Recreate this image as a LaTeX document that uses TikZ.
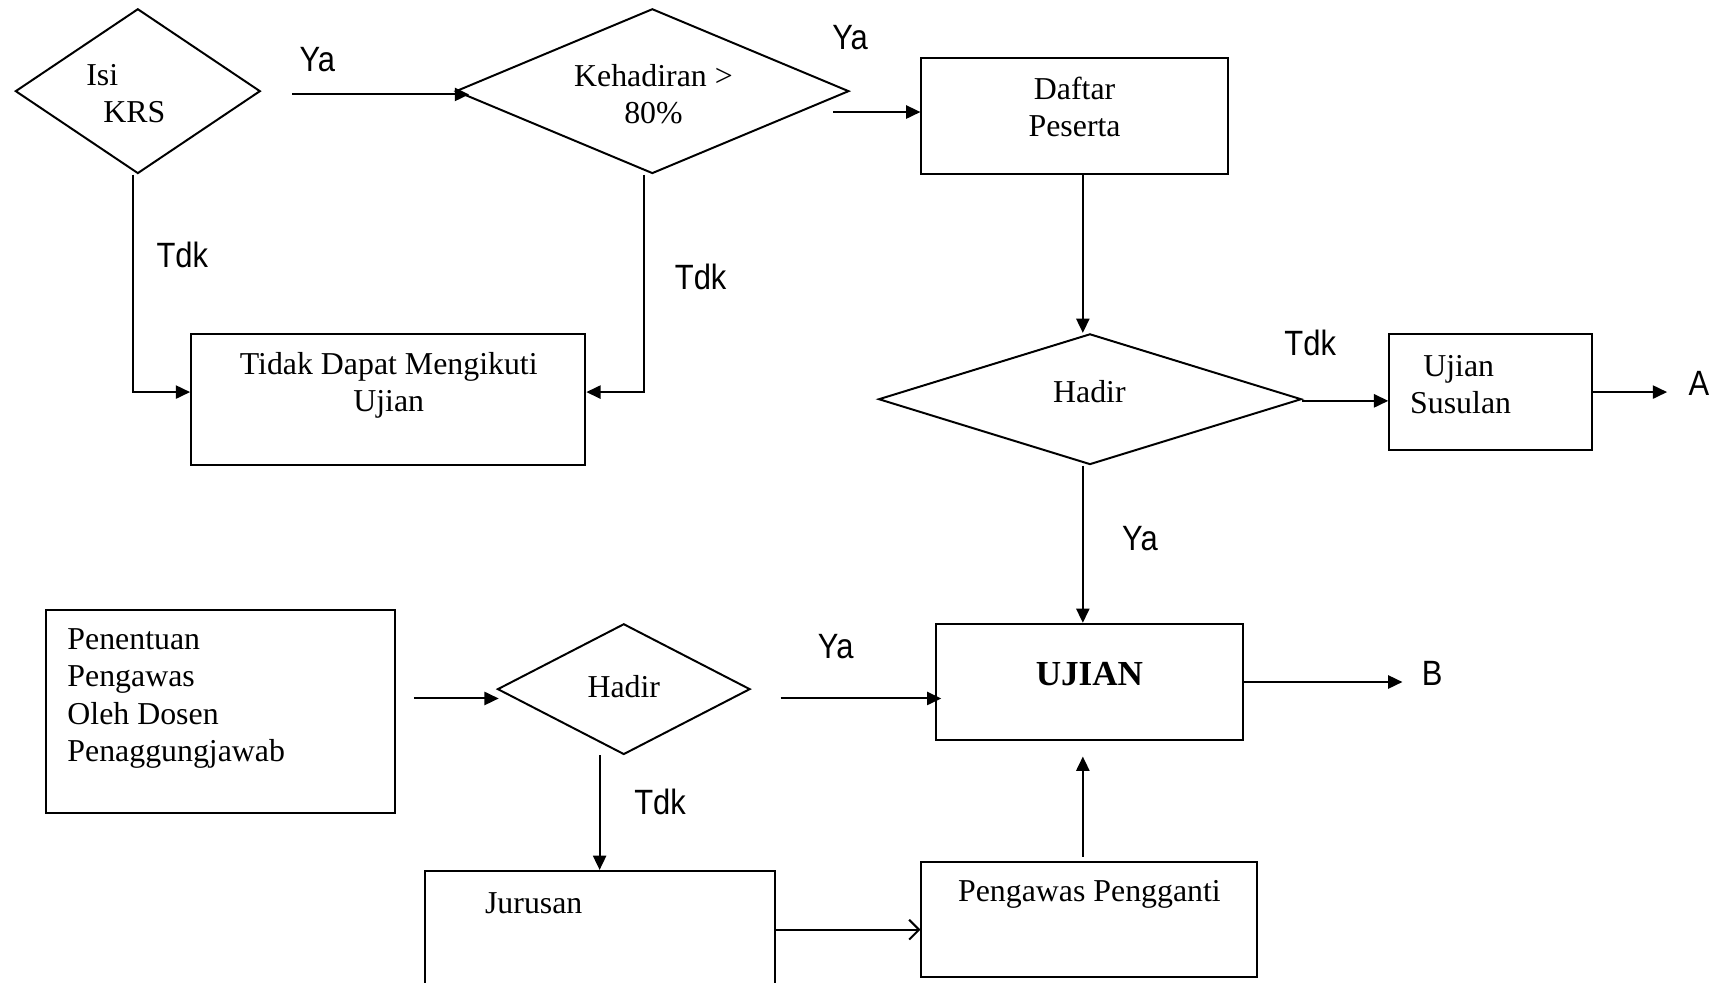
\documentclass[tikz,border=0pt]{standalone}
\usepackage{fontspec}
\setmainfont{Liberation Serif}
\newfontfamily\lblfont[FakeStretch=0.88]{Liberation Sans}
\usetikzlibrary{shapes.geometric,arrows.meta,calc}

\begin{document}
\begin{tikzpicture}[x=0.5pt,y=-0.5pt,
  every node/.style={font=\fontsize{14.5}{17}\selectfont},
  box/.style={draw, line width=0.9pt, rectangle, inner sep=0pt},
  dia/.style={draw, line width=0.9pt, diamond, inner sep=0pt},
  txt/.style={inner sep=0pt, align=center},
  lbl/.style={inner sep=0pt, font=\lblfont\fontsize{16}{19}\selectfont},
  arr/.style={line width=0.9pt, -{Triangle[length=6.5pt,width=6pt]}},
  openarr/.style={line width=0.9pt, -{Straight Barb[length=4.5pt,width=9pt]}},
]
\useasboundingbox (0,0) rectangle (1568,895);

% ---- shapes ----
\node[dia, minimum width=111.5pt, minimum height=75pt] (isi) at (125.5,83) {};
\node[dia, minimum width=179pt, minimum height=75pt] (keh) at (594,83) {};
\node[box, minimum width=139.5pt, minimum height=52.5pt] (daftar) at (978.5,105.5) {};
\node[dia, minimum width=192.5pt, minimum height=59.5pt] (hadir1) at (992.5,363.5) {};
\node[box, minimum width=92.5pt, minimum height=53pt] (sus) at (1357.5,357) {};
\node[box, minimum width=179.5pt, minimum height=59.5pt] (tidak) at (353.5,363.5) {};
\node[box, minimum width=159pt, minimum height=92.5pt] (pen) at (201,647.5) {};
\node[dia, minimum width=115pt, minimum height=59.5pt] (hadir2) at (568,627.5) {};
\node[box, minimum width=140pt, minimum height=53pt] (ujian) at (992,621) {};
\node[box, minimum width=159.5pt, minimum height=53.5pt] (jur) at (546.5,846.5) {};
\node[box, minimum width=153pt, minimum height=52.5pt] (peng) at (992,837.5) {};

% ---- texts inside shapes ----
\node[txt, align=left] (isi-t) at (114.5,85) {Isi\\\hspace*{7.75pt}KRS};
\node[txt] (keh-t) at (595,86) {Kehadiran >\\80\%};
\node[txt] (daftar-t) at (978.5,97.5) {Daftar\\Peserta};
\node[txt] (hadir1-t) at (992,357) {Hadir};
\node[txt, align=left] (sus-t) at (1330,350) {\hspace*{6pt}Ujian\\Susulan};
\node[txt] (tidak-t) at (354,351) {Tidak Dapat Mengikuti\\Ujian};
\node[txt, align=left, anchor=west] (pen-t) at (61,636)
  {Penentuan\\Pengawas\\Oleh Dosen\\Penaggungjawab};
\node[txt] (hadir2-t) at (568,625) {Hadir};
\node[txt, font=\bfseries\fontsize{16}{19}\selectfont] (ujian-t) at (992,614) {UJIAN};
\node[txt] (jur-t) at (486,822) {Jurusan};
\node[txt] (peng-t) at (992,814) {Pengawas Pengganti};

% ---- branch labels ----
\node[lbl] (ya1) at (289,54) {Ya};
\node[lbl] (ya2) at (774,34) {Ya};
\node[lbl] (tdk1) at (166,232) {Tdk};
\node[lbl] (tdk2) at (638,252) {Tdk};
\node[lbl] (tdk3) at (1193,312) {Tdk};
\node[lbl] (A) at (1547,349) {A};
\node[lbl] (ya3) at (1038,490) {Ya};
\node[lbl] (ya4) at (761,589) {Ya};
\node[lbl] (B) at (1304,613) {B};
\node[lbl] (tdk4) at (601,730) {Tdk};

% ---- helper coordinates ----
\coordinate (colx) at (986,0);
\coordinate (isix) at (121,0);
\coordinate (kehx) at (586,0);
\coordinate (h2x) at (546,0);
\coordinate (k-out) at ($(keh.east)+(-15,19)$);
\coordinate (h2-out) at ($(hadir2.east)+(27,8.5)$);
\coordinate (h1-out) at ($(hadir1.east)+(0,1.5)$);
\coordinate (a-in) at (1518,357);
\coordinate (b-in) at (1277,621);

% ---- connectors ----
\draw[arr] ($(isi.east)+(28,3)$) -- ($(keh.west)+(13,3)$);
\draw[arr] (k-out) -- (k-out -| daftar.west);
\draw[arr] (daftar.south -| colx) -- (hadir1.north -| colx);
\draw[arr] (h1-out) -- (h1-out -| sus.west);
\draw[arr] (sus.east) -- (a-in);
\draw[arr] (hadir1.south -| colx) -- (ujian.north -| colx);
\draw[arr] (isi.south -| isix) |- ($(tidak.west)+(0,-6.5)$);
\draw[arr] (keh.south -| kehx) |- ($(tidak.east)+(0,-6.5)$);
\draw[arr] ($(pen.east)+(16,-11.5)$) -- ($(hadir2.west)+(2,8.5)$);
\draw[arr] (h2-out) -- ($(h2-out -| ujian.west)+(6,0)$);
\draw[arr] (ujian.east) -- (b-in);
\draw[arr] (hadir2.south -| h2x) -- (jur.north -| h2x);
\draw[openarr] (jur.east) -- (jur.east -| peng.west);
\draw[arr] ($(peng.north -| colx)+(0,-4)$) -- ($(ujian.south -| colx)+(0,14)$);
\end{tikzpicture}
\end{document}
